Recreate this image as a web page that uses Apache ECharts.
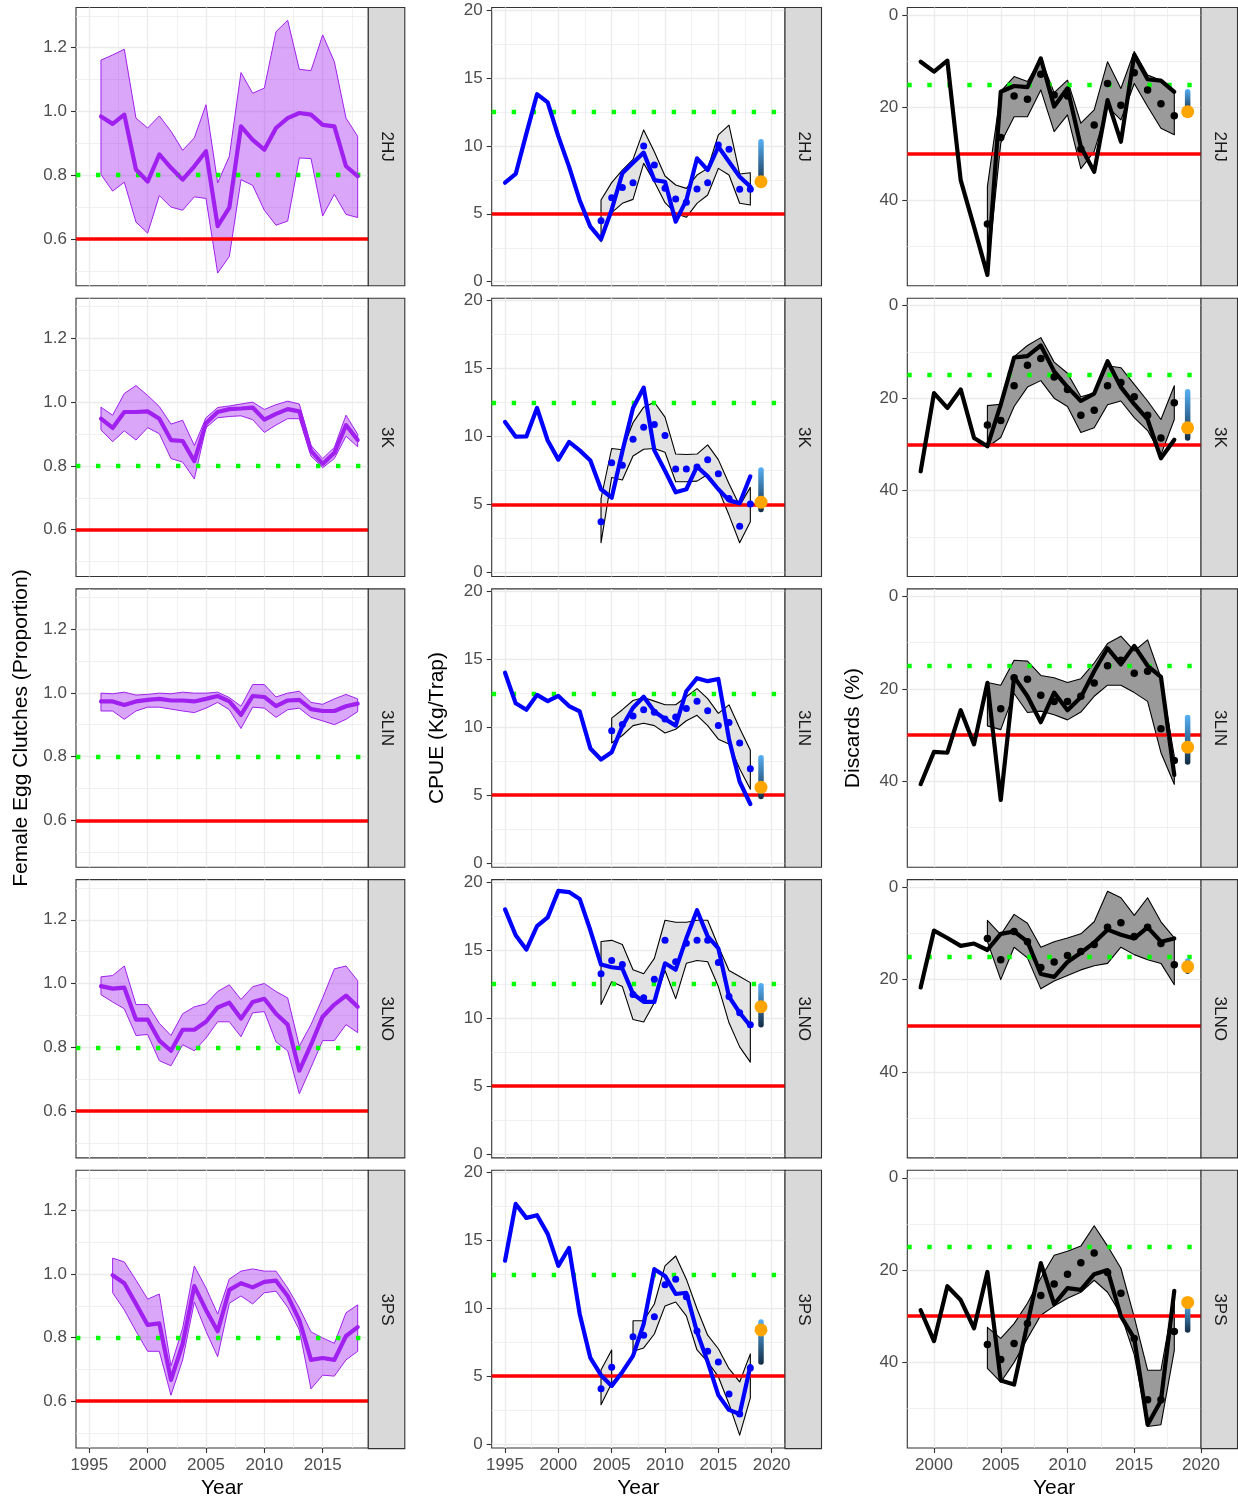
<!DOCTYPE html>
<html>
<head>
<meta charset="utf-8">
<title>Snow crab indicators by area</title>
<script src="https://cdn.jsdelivr.net/npm/echarts@6/dist/echarts.min.js"></script>
<style>
  html, body { margin: 0; padding: 0; background: #ffffff; }
  #chart { width: 1238px; height: 1500px; }
</style>
</head>
<body>
<div id="chart"></div>
<script>
// ---- data ----
const areas = ['2HJ', '3K', '3LIN', '3LNO', '3PS'];

const eggYears = [1996, 1997, 1998, 1999, 2000, 2001, 2002, 2003, 2004, 2005, 2006, 2007,
  2008, 2009, 2010, 2011, 2012, 2013, 2014, 2015, 2016, 2017, 2018];
const cpueYears = [1995, 1996, 1997, 1998, 1999, 2000, 2001, 2002, 2003, 2004, 2005, 2006,
  2007, 2008, 2009, 2010, 2011, 2012, 2013, 2014, 2015, 2016, 2017, 2018];
const discYears = [1999, 2000, 2001, 2002, 2003, 2004, 2005, 2006, 2007, 2008,
  2009, 2010, 2011, 2012, 2013, 2014, 2015, 2016, 2017, 2018];
const surveyYears = [2004, 2005, 2006, 2007, 2008, 2009, 2010, 2011, 2012, 2013, 2014, 2015, 2016, 2017, 2018];
const forecastYear = 2019;

// female egg clutches: median and band
const eggMid = {
  '2HJ': [0.984, 0.961, 0.99, 0.818, 0.78, 0.865, 0.823, 0.786, 0.828, 0.875, 0.64, 0.698, 0.953, 0.911, 0.88, 0.948, 0.979, 0.995, 0.99, 0.958, 0.953, 0.828, 0.797],
  '3K': [0.948, 0.919, 0.969, 0.969, 0.971, 0.948, 0.881, 0.878, 0.815, 0.934, 0.969, 0.978, 0.98, 0.983, 0.945, 0.963, 0.978, 0.971, 0.847, 0.806, 0.841, 0.928, 0.881],
  '3LIN': [0.973, 0.973, 0.962, 0.973, 0.978, 0.981, 0.976, 0.976, 0.973, 0.981, 0.99, 0.973, 0.931, 0.99, 0.987, 0.958, 0.976, 0.978, 0.949, 0.943, 0.943, 0.958, 0.966],
  '3LNO': [0.992, 0.984, 0.987, 0.887, 0.887, 0.821, 0.789, 0.855, 0.855, 0.88, 0.925, 0.94, 0.89, 0.942, 0.952, 0.905, 0.871, 0.727, 0.808, 0.896, 0.934, 0.962, 0.927],
  '3PS': [null, 0.996, 0.971, 0.906, 0.84, 0.845, 0.667, 0.78, 0.962, 0.887, 0.82, 0.95, 0.971, 0.958, 0.975, 0.979, 0.931, 0.855, 0.73, 0.736, 0.73, 0.805, 0.833]
};
const eggHi = {
  '2HJ': [1.161, 1.177, 1.195, 0.979, 0.948, 0.986, 0.938, 0.878, 0.917, 1.021, 0.776, 0.859, 1.122, 1.057, 1.073, 1.25, 1.286, 1.132, 1.128, 1.24, 1.156, 0.979, 0.922],
  '3K': [0.984, 0.959, 1.027, 1.052, 1.021, 0.986, 0.931, 0.943, 0.864, 0.951, 0.983, 0.988, 0.994, 1.0, 0.977, 0.992, 1.003, 0.994, 0.864, 0.823, 0.858, 0.959, 0.899],
  '3LIN': [0.999, 0.997, 1.002, 0.993, 0.995, 0.999, 0.997, 1.002, 0.999, 0.999, 1.002, 0.985, 0.958, 1.026, 1.026, 0.987, 0.999, 1.005, 0.97, 0.964, 0.981, 0.995, 0.981],
  '3LNO': [1.021, 1.025, 1.055, 0.934, 0.934, 0.875, 0.837, 0.905, 0.927, 0.936, 0.975, 0.996, 0.95, 0.99, 1.0, 0.975, 0.955, 0.804, 0.871, 0.955, 1.046, 1.055, 1.009],
  '3PS': [null, 1.05, 1.038, 0.981, 0.921, 0.937, 0.711, 0.83, 1.025, 0.956, 0.874, 0.984, 1.009, 1.016, 1.009, 1.009, 0.956, 0.893, 0.818, 0.799, 0.782, 0.878, 0.903]
};
const eggLo = {
  '2HJ': [0.802, 0.75, 0.778, 0.653, 0.618, 0.736, 0.70, 0.69, 0.732, 0.727, 0.493, 0.545, 0.786, 0.768, 0.69, 0.643, 0.656, 0.854, 0.852, 0.672, 0.74, 0.677, 0.667],
  '3K': [0.913, 0.876, 0.91, 0.881, 0.92, 0.901, 0.823, 0.812, 0.759, 0.92, 0.951, 0.955, 0.957, 0.945, 0.905, 0.928, 0.948, 0.948, 0.831, 0.794, 0.823, 0.893, 0.86],
  '3LIN': [0.943, 0.943, 0.917, 0.943, 0.955, 0.955, 0.949, 0.943, 0.938, 0.952, 0.97, 0.947, 0.888, 0.955, 0.952, 0.923, 0.947, 0.952, 0.923, 0.912, 0.9, 0.917, 0.941],
  '3LNO': [0.965, 0.942, 0.921, 0.837, 0.84, 0.758, 0.742, 0.808, 0.789, 0.829, 0.88, 0.88, 0.833, 0.908, 0.912, 0.817, 0.789, 0.654, 0.737, 0.821, 0.821, 0.871, 0.846],
  '3PS': [null, 0.941, 0.887, 0.82, 0.757, 0.757, 0.619, 0.73, 0.912, 0.82, 0.74, 0.908, 0.931, 0.906, 0.941, 0.946, 0.896, 0.824, 0.639, 0.682, 0.679, 0.73, 0.757]
};

// CPUE: fishery line, survey points and band, 2019 forecast
const cpueLine = {
  '2HJ': [7.29, 7.93, 10.9, 13.8, 13.2, 10.7, 8.47, 6.0, 4.05, 3.12, 5.3, 7.98, 8.76, 9.5, 7.48, 7.36, 4.42, 6.0, 9.08, 8.22, 9.94, 8.83, 7.73, 7.0],
  '3K': [11.07, 9.99, 10.01, 12.1, 9.71, 8.3, 9.6, 8.98, 8.24, 6.12, 5.5, 8.9, 12.1, 13.6, 8.98, 7.48, 5.9, 6.12, 7.8, 7.07, 6.12, 5.3, 5.09, 7.07],
  '3LIN': [14.01, 11.76, 11.29, 12.38, 11.92, 12.3, 11.56, 11.16, 8.44, 7.62, 8.16, 10.07, 11.43, 12.24, 11.16, 10.61, 10.12, 12.65, 13.61, 13.39, 13.55, 9.12, 5.99, 4.35],
  '3LNO': [17.99, 16.09, 15.03, 16.75, 17.4, 19.35, 19.26, 18.76, 16.45, 13.93, 13.73, 13.64, 11.78, 11.18, 11.18, 14.02, 13.55, 15.86, 17.93, 16.0, 15.12, 11.57, 10.38, 9.41],
  '3PS': [13.51, 17.7, 16.67, 16.87, 15.49, 13.13, 14.45, 9.59, 6.34, 5.07, 4.28, 5.31, 6.49, 8.85, 12.89, 12.39, 11.06, 11.15, 8.26, 6.05, 3.6, 2.51, 2.21, 5.75]
};
const cpuePts = {
  '2HJ': [4.49, 6.18, 6.94, 7.29, 9.99, 8.59, 6.87, 6.09, 5.84, 6.82, 7.29, 10.06, 9.74, 6.8, 6.8],
  '3K': [3.73, 8.08, 7.89, 9.8, 10.69, 10.88, 10.07, 7.62, 7.62, 7.76, 8.3, 7.27, 5.44, 3.4, 5.03],
  '3LIN': [null, 9.74, 10.2, 10.83, 11.29, 11.1, 10.61, 10.75, 11.37, 11.92, 11.21, 10.12, 10.34, 8.84, 6.94],
  '3LNO': [13.25, 14.23, 13.93, 11.72, 11.48, 12.84, 15.71, 14.14, 15.5, 15.71, 15.71, 14.08, 11.57, 10.38, 9.5],
  '3PS': [4.07, 5.66, null, 7.91, 8.02, 9.38, 11.74, 12.15, 10.86, 8.32, 6.84, 6.05, 3.69, 2.21, 5.6]
};
const cpueHi = {
  '2HJ': [6.01, 7.29, 8.22, 9.0, 11.17, 9.57, 7.78, 7.12, 6.87, 7.85, 8.34, 10.8, 11.53, 7.93, 8.02],
  '3K': [5.44, 9.12, 9.03, 11.02, 12.16, 12.52, 11.43, 8.71, 8.68, 8.71, 9.39, 8.3, 6.53, 4.9, 6.26],
  '3LIN': [null, 10.67, 11.29, 11.97, 12.19, 11.92, 11.65, 11.65, 12.24, 12.84, 12.11, 11.02, 11.65, 9.93, 8.3],
  '3LNO': [15.62, 15.71, 15.41, 13.55, 13.25, 14.38, 17.19, 17.04, 17.04, 17.19, 17.19, 15.27, 13.49, 13.05, 12.6],
  '3PS': [5.46, 6.93, null, 9.09, 9.09, 10.32, 13.13, 13.86, 12.15, 9.97, 8.02, 7.02, 5.55, 4.57, 6.64]
};
const cpueLo = {
  '2HJ': [2.94, 5.08, 5.77, 6.06, 8.71, 7.36, 5.82, 5.03, 4.74, 5.77, 6.38, 8.34, 7.85, 5.77, 5.64],
  '3K': [2.18, 6.99, 6.8, 8.57, 9.06, 9.12, 8.84, 6.67, 6.67, 6.72, 7.21, 6.12, 4.22, 2.18, 3.73],
  '3LIN': [null, 8.84, 9.39, 10.12, 10.29, 10.12, 9.58, 9.85, 10.48, 10.88, 10.12, 9.12, 8.76, 6.94, 5.44],
  '3LNO': [10.98, 12.66, 12.31, 9.88, 9.7, 11.12, 13.49, 11.42, 14.02, 14.23, 14.14, 12.31, 9.64, 7.87, 6.75],
  '3PS': [2.89, 4.48, null, 6.84, 7.08, 8.11, 10.18, 10.47, 9.44, 6.93, 6.05, 4.96, 2.95, 0.65, 3.39]
};
const cpueThermo = { '2HJ': [10.3, 7.2], '3K': [7.54, 4.63], '3LIN': [7.76, 4.9], '3LNO': [12.37, 9.5], '3PS': [9.0, 6.05] };
const cpueForecast = { '2HJ': 7.36, '3K': 5.17, '3LIN': 5.58, '3LNO': 10.83, '3PS': 8.41 };

// discards (%): fishery line, survey points and band, 2019 forecast
const discLine = {
  '2HJ': [10.1, 12.25, 9.87, 35.7, 45.8, 56.2, 16.6, 15.35, 15.6, 9.37, 19.8, 15.86, 28.5, 33.9, 18.4, 27.4, 8.65, 13.9, 14.2, 16.6],
  '3K': [35.8, 18.9, 22.1, 18.1, 28.6, 30.4, 21.4, 11.2, 10.9, 8.6, 14.2, 17.6, 20.6, 19.0, 12.0, 17.6, 21.3, 24.6, 33.0, 29.0],
  '3LIN': [40.6, 33.6, 33.8, 24.6, 32.0, 18.7, 44.0, 17.4, 21.6, 27.2, 20.8, 24.6, 21.8, 16.2, 11.2, 14.7, 10.7, 15.0, 17.4, 38.6],
  '3LNO': [21.7, 9.4, 11.0, 12.7, 12.2, 13.6, 10.1, 9.6, 11.8, 18.8, 19.4, 16.2, 14.2, 12.0, 9.2, 10.3, 11.1, 8.7, 11.8, 11.1],
  '3PS': [28.7, 35.4, 23.5, 26.5, 32.6, 20.4, 43.9, 44.8, 31.6, 18.5, 27.4, 23.9, 24.3, 20.9, 20.0, 30.0, 34.8, 53.5, 48.3, 24.5]
};
const discPts = {
  '2HJ': [45.2, 26.5, 17.5, 18.2, 12.8, 17.3, 17.5, 29.0, 23.8, 14.8, 19.5, 12.5, 16.2, 19.2, 21.8],
  '3K': [25.8, 24.8, 17.3, 12.9, 11.4, 15.4, 18.1, 23.7, 22.6, 17.3, 16.6, 19.7, 23.7, 28.6, 21.0],
  '3LIN': [null, 24.3, 17.6, 17.9, 21.4, 22.7, 22.7, 21.6, 18.7, 15.0, 13.8, 16.6, 16.2, 28.6, 35.5],
  '3LNO': [11.1, 15.7, 9.6, 11.8, 17.4, 16.2, 14.8, 13.9, 12.4, 8.7, 7.7, 10.7, 8.7, 12.2, 16.8],
  '3PS': [36.1, 39.4, 35.9, 31.6, 25.5, 23.0, 20.9, 18.4, 16.3, 20.5, 25.0, 34.8, 48.1, 48.1, 33.3]
};
const discHi = {
  '2HJ': [37.1, 16.5, 13.3, 14.4, 9.4, 16.8, 14.1, 23.4, 20.5, 10.1, 15.9, 7.9, 13.0, 14.1, 16.9],
  '3K': [21.6, 21.3, 11.0, 8.6, 6.9, 12.2, 14.6, 19.7, 18.9, 13.0, 13.4, 17.0, 20.6, 24.6, 17.3],
  '3LIN': [18.6, 19.2, 13.8, 14.0, 17.1, 17.6, 18.6, 17.8, 14.4, 10.2, 8.6, 11.8, 9.4, 17.6, 34.6],
  '3LNO': [7.2, 10.3, 5.9, 7.8, 13.0, 11.8, 11.0, 10.1, 7.5, 0.9, 2.3, 6.1, 2.3, 7.5, 11.0],
  '3PS': [32.4, 34.8, 31.6, 27.2, 21.7, 16.8, 15.9, 14.8, 10.4, 14.8, 19.6, 30.2, 41.7, 41.7, 25.5]
};
const discLo = {
  '2HJ': [55.9, 27.7, 22.0, 22.0, 16.2, 25.2, 21.6, 33.2, 29.5, 19.8, 22.7, 14.8, 19.8, 24.5, 25.9],
  '3K': [30.6, 28.5, 21.8, 17.6, 16.2, 20.0, 21.8, 27.4, 26.4, 21.4, 20.6, 24.2, 27.0, 32.2, 24.6],
  '3LIN': [28.0, 28.8, 21.0, 25.1, 24.8, 25.6, 26.7, 25.0, 21.6, 19.2, 19.2, 20.8, 22.7, 33.8, 40.6],
  '3LNO': [11.8, 20.0, 13.0, 15.3, 22.0, 20.3, 19.1, 17.9, 17.0, 16.5, 13.0, 14.6, 15.7, 16.5, 21.1],
  '3PS': [41.3, 44.3, 40.0, 34.8, 29.8, 27.8, 26.1, 24.8, 22.2, 24.8, 29.6, 38.3, 53.9, 53.5, 37.4]
};
const discThermo = { '2HJ': [16.6, 20.5], '3K': [18.6, 28.6], '3LIN': [26.2, 35.8], '3LNO': [16.0, 18.2], '3PS': [27.4, 33.0] };
const discForecast = { '2HJ': 20.9, '3K': 26.4, '3LIN': 32.6, '3LNO': 17.2, '3PS': 27.0 };

// reference levels [red limit, green target]
const eggLimits = [0.6, 0.8];
const cpueLimits = [5, 12.5];
const discLimits = [30, 15];

// tick labels and minor grid values
const eggTicks = [0.6, 0.8, 1.0, 1.2];
const eggMinor = [0.5, 0.7, 0.9, 1.1, 1.3];
const cpueTicks = [0, 5, 10, 15, 20];
const cpueMinor = [2.5, 7.5, 12.5, 17.5];
const discTicks = [0, 20, 40];
const discMinor = [10, 30, 50];
const eggYearTicks = [1995, 2000, 2005, 2010, 2015];
const cpueYearTicks = [1995, 2000, 2005, 2010, 2015, 2020];
const discYearTicks = [2000, 2005, 2010, 2015, 2020];
const yearMinor = [1997.5, 2002.5, 2007.5, 2012.5, 2017.5];

// ---- layout ----
const FONT = '"Liberation Sans", Arial, Helvetica, sans-serif';
const rowTop = [7.5, 298.2, 588.9, 879.6, 1170.3];
const panelH = 278.3;
const stripW = 36.5;
const GRID = '#ebebeb';
const thermoColor = new echarts.graphic.LinearGradient(0, 0, 0, 1, [
  { offset: 0, color: '#56B1F7' },
  { offset: 1, color: '#132B43' }
]);

const cols = [
  {
    left: 76, width: 292.3, xRange: [1993.86, 2018.91], yRange: [0.453, 1.326], inverse: false,
    ySplit: 5, xTicks: eggYearTicks, yTicks: eggTicks, yMinor: eggMinor, digits: 1,
    title: 'Female Egg Clutches (Proportion)', limits: eggLimits,
    line: { years: eggYears, vals: eggMid, color: '#A020F0', width: 4.2 },
    band: { years: eggYears, lo: eggLo, hi: eggHi, fill: 'rgba(160,32,240,0.4)', stroke: '#A020F0', lw: 1 }
  },
  {
    left: 491.7, width: 293.3, xRange: [1993.75, 2021.25], yRange: [-0.3, 20.18], inverse: false,
    ySplit: 5, xTicks: cpueYearTicks, yTicks: cpueTicks, yMinor: cpueMinor, digits: 0,
    title: 'CPUE (Kg/Trap)', limits: cpueLimits,
    line: { years: cpueYears, vals: cpueLine, color: '#0000FF', width: 4.2 },
    band: { years: surveyYears, lo: cpueLo, hi: cpueHi, fill: '#e3e3e3', stroke: '#000000', lw: 1.1 },
    pts: { years: surveyYears, vals: cpuePts, color: '#0000FF', size: 7 },
    thermo: cpueThermo, forecast: cpueForecast
  },
  {
    left: 907.3, width: 293.7, xRange: [1998, 2020], yRange: [-1.62, 58.55], inverse: true,
    ySplit: 3, xTicks: discYearTicks, yTicks: discTicks, yMinor: discMinor, digits: 0,
    title: 'Discards (%)', limits: discLimits,
    line: { years: discYears, vals: discLine, color: '#000000', width: 4.2 },
    band: { years: surveyYears, lo: discLo, hi: discHi, fill: '#9a9a9a', stroke: '#000000', lw: 1.1 },
    pts: { years: surveyYears, vals: discPts, color: '#000000', size: 7.5 },
    thermo: discThermo, forecast: discForecast
  }
];

function pairs(xs, ys) {
  return xs.map((x, i) => [x, ys[i] == null ? '-' : ys[i]]);
}

function labelFormatter(ticks, digits) {
  return function (v) {
    const hit = ticks.some(t => Math.abs(t - v) < 1e-6);
    return hit ? v.toFixed(digits) : '';
  };
}

// polygon band built with the axis scales
function bandSeries(gi, band, area) {
  const segs = [];
  let cur = [];
  band.years.forEach((x, i) => {
    const lo = band.lo[area][i], hi = band.hi[area][i];
    if (lo == null || hi == null) {
      if (cur.length) segs.push(cur);
      cur = [];
    } else {
      cur.push([x, lo, hi]);
    }
  });
  if (cur.length) segs.push(cur);
  return {
    type: 'custom', xAxisIndex: gi, yAxisIndex: gi, z: 2, silent: true,
    data: segs.map(s => [s[0][0], s[0][2]]),
    renderItem: function (params, api) {
      const seg = segs[params.dataIndex];
      const upper = seg.map(p => api.coord([p[0], p[2]]));
      const lower = seg.slice().reverse().map(p => api.coord([p[0], p[1]]));
      return {
        type: 'polygon',
        shape: { points: upper.concat(lower) },
        style: { fill: band.fill, stroke: band.stroke, lineWidth: band.lw, lineJoin: 'round' }
      };
    }
  };
}

const option = {
  animation: false,
  backgroundColor: '#ffffff',
  textStyle: { fontFamily: FONT },
  grid: [], xAxis: [], yAxis: [], series: [], graphic: []
};

cols.forEach((col, c) => {
  areas.forEach((area, r) => {
    const gi = option.grid.length;
    const top = rowTop[r];
    const isBottom = r === areas.length - 1;
    const isMiddle = r === 2;

    option.grid.push({
      left: col.left, top: top, width: col.width, height: panelH,
      show: true, borderColor: '#333333', borderWidth: 1.1, backgroundColor: 'transparent'
    });

    option.xAxis.push({
      type: 'value', gridIndex: gi, min: col.xRange[0], max: col.xRange[1], splitNumber: 5,
      position: 'bottom',
      axisLine: { show: false, onZero: false },
      axisTick: { show: isBottom, customValues: col.xTicks, length: 5, lineStyle: { color: '#333333', width: 1.1 } },
      axisLabel: {
        show: isBottom, customValues: col.xTicks, margin: 9, fontSize: 17, color: '#4d4d4d',
        fontFamily: FONT, formatter: labelFormatter(col.xTicks, 0)
      },
      splitLine: { show: true, lineStyle: { color: GRID, width: 1.3 } },
      name: isBottom ? 'Year' : '', nameLocation: 'middle', nameGap: 30,
      nameTextStyle: { fontSize: 21, color: '#000000', fontFamily: FONT }
    });

    option.yAxis.push({
      type: 'value', gridIndex: gi, min: col.yRange[0], max: col.yRange[1], inverse: col.inverse,
      splitNumber: col.ySplit, position: 'left',
      axisLine: { show: false, onZero: false },
      axisTick: { show: true, customValues: col.yTicks, length: 5, lineStyle: { color: '#333333', width: 1.1 } },
      axisLabel: {
        customValues: col.yTicks, margin: 9, fontSize: 17, color: '#4d4d4d', fontFamily: FONT,
        formatter: labelFormatter(col.yTicks, col.digits)
      },
      splitLine: { show: true, lineStyle: { color: GRID, width: 1.3 } },
      name: isMiddle ? col.title : '', nameLocation: 'middle', nameGap: 44,
      nameTextStyle: { fontSize: 21, color: '#000000', fontFamily: FONT }
    });

    // minor grid lines
    option.series.push({
      type: 'line', xAxisIndex: gi, yAxisIndex: gi, data: [], silent: true,
      markLine: {
        z: 1, silent: true, symbol: ['none', 'none'], label: { show: false },
        emphasis: { disabled: true },
        lineStyle: { color: GRID, width: 0.7, type: 'solid' },
        data: yearMinor.filter(v => v > col.xRange[0] && v < col.xRange[1]).map(v => ({ xAxis: v }))
          .concat(col.yMinor.filter(v => v > col.yRange[0] && v < col.yRange[1]).map(v => ({ yAxis: v })))
      }
    });

    // uncertainty band
    option.series.push(bandSeries(gi, col.band, area));

    // reference lines: red limit, green dotted target
    option.series.push({
      type: 'line', xAxisIndex: gi, yAxisIndex: gi, data: [], silent: true,
      markLine: {
        z: 3, silent: true, symbol: ['none', 'none'], label: { show: false },
        emphasis: { disabled: true },
        data: [
          { yAxis: col.limits[0], lineStyle: { color: '#FF0000', width: 3.6, type: 'solid' } },
          { yAxis: col.limits[1], lineStyle: { color: '#00FF00', width: 4.4, type: [4.4, 15.6], cap: 'butt' } }
        ]
      }
    });

    // main line
    option.series.push({
      type: 'line', xAxisIndex: gi, yAxisIndex: gi, z: 4, silent: true,
      data: pairs(col.line.years, col.line.vals[area]),
      showSymbol: false, connectNulls: false,
      lineStyle: { color: col.line.color, width: col.line.width, join: 'round', cap: 'round' },
      itemStyle: { color: col.line.color }
    });

    // survey points
    if (col.pts) {
      option.series.push({
        type: 'scatter', xAxisIndex: gi, yAxisIndex: gi, z: 5, silent: true,
        data: col.pts.years.map((x, i) => [x, col.pts.vals[area][i]]).filter(p => p[1] != null),
        symbol: 'circle', symbolSize: col.pts.size,
        itemStyle: { color: col.pts.color, opacity: 1 }
      });
    }

    // 2019 forecast: gradient bar and orange point
    if (col.thermo) {
      option.series.push({
        type: 'line', xAxisIndex: gi, yAxisIndex: gi, z: 6, silent: true,
        data: [[forecastYear, col.thermo[area][0]], [forecastYear, col.thermo[area][1]]],
        showSymbol: false,
        lineStyle: { color: thermoColor, width: 5.5, cap: 'round' }
      });
      option.series.push({
        type: 'scatter', xAxisIndex: gi, yAxisIndex: gi, z: 7, silent: true,
        data: [[forecastYear, col.forecast[area]]],
        symbol: 'circle', symbolSize: 13,
        itemStyle: { color: '#FFA500', opacity: 1 }
      });
    }

    // facet strip
    const sx = col.left + col.width;
    option.graphic.push({
      type: 'rect', silent: true, z: 10,
      shape: { x: sx, y: top, width: stripW, height: panelH },
      style: { fill: '#d9d9d9', stroke: '#333333', lineWidth: 1.1 }
    });
    option.graphic.push({
      type: 'text', silent: true, z: 11,
      x: sx + stripW / 2, y: top + panelH / 2, rotation: -Math.PI / 2,
      style: {
        text: area, fill: '#1a1a1a', fontSize: 17, fontFamily: FONT,
        align: 'center', verticalAlign: 'middle'
      }
    });
  });
});

const chart = echarts.init(document.getElementById('chart'), null, { renderer: 'canvas' });
chart.setOption(option);
</script>
</body>
</html>
